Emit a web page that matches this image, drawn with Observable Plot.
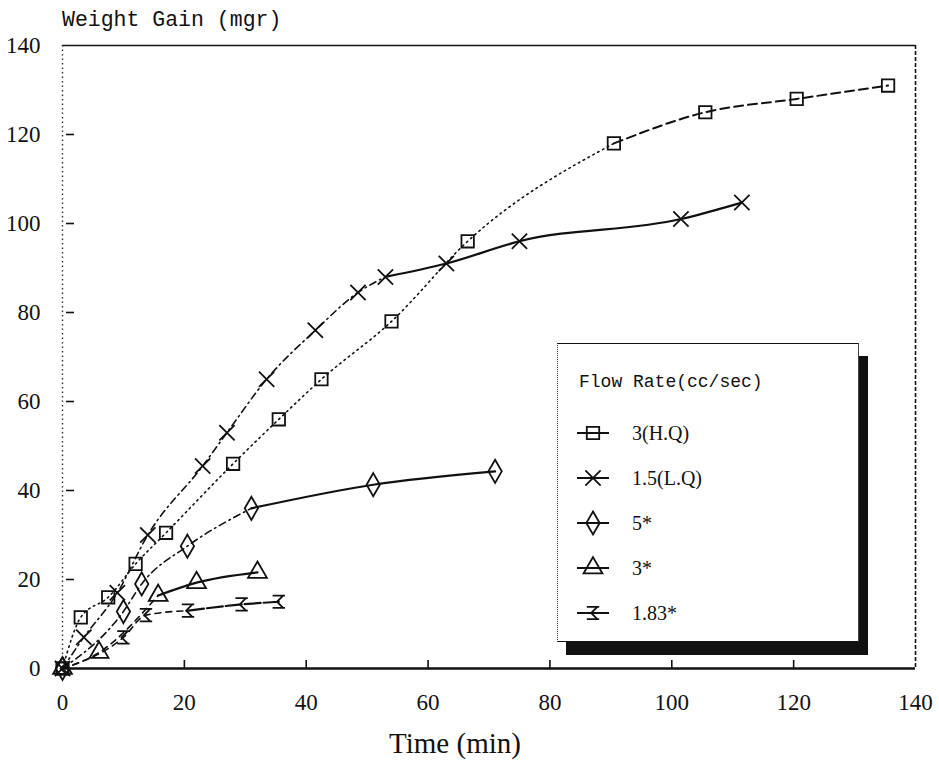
<!DOCTYPE html>
<html><head><meta charset="utf-8">
<script src="https://cdn.jsdelivr.net/npm/d3@7"></script>
<script src="https://cdn.jsdelivr.net/npm/@observablehq/plot@0.6"></script>
<style>
body{margin:0;background:#fff;}
#wrap{position:relative;width:939px;height:765px;overflow:hidden;background:#fff;}
#title{position:absolute;left:62px;top:8px;font-family:"Liberation Mono",monospace;font-size:21.5px;color:#111;white-space:nowrap;}
#xlabel{position:absolute;left:0;width:910px;top:727px;text-align:center;font-family:"Liberation Serif",serif;font-size:29px;color:#111;}
#legend{position:absolute;left:557px;top:343px;width:300px;height:297px;background:#fff;border-top:1.5px solid #111;border-left:1.5px dotted #333;border-bottom:1.5px solid #111;border-right:1px solid #444;box-shadow:9px 13px 0 0 #111;}
#legend .ttl{position:absolute;left:21px;top:28px;font-family:"Liberation Mono",monospace;font-size:18px;color:#111;white-space:nowrap;}
#legend .row{position:absolute;left:18px;height:30px;display:flex;align-items:center;}
#legend .row span{margin-left:22px;font-family:"Liberation Serif",serif;font-size:20px;color:#111;}
</style></head><body>
<div id="wrap"><div id="title">Weight Gain (mgr)</div><div id="xlabel">Time (min)</div></div>
<script>
// ---- data ----
const xDomain = [0, 140];
const yDomain = [0, 140];
const xTicks = [0, 20, 40, 60, 80, 100, 120, 140];
const yTicks = [0, 20, 40, 60, 80, 100, 120, 140];
const legendTitle = "Flow Rate(cc/sec)";
const seriesNames = ["3(H.Q)", "1.5(L.Q)", "5*", "3*", "1.83*"];

const hqTime = [0, 3, 7.5, 12, 17, 28, 35.5, 42.5, 54, 66.5, 90.5, 105.5, 120.5, 135.5];
const hqGain = [0, 11.5, 16, 23.5, 30.5, 46, 56, 65, 78, 96, 118, 125, 128, 131];

const lqTime = [0, 3.5, 9, 14, 23, 27, 33.5, 41.5, 48.5, 53, 63, 75, 101.5, 111.5];
const lqGain = [0, 7, 17, 30, 45.5, 53, 65, 76, 84.5, 88, 91, 96, 101, 104.7];

const f5Time = [0, 10, 13, 20.5, 31, 51, 71];
const f5Gain = [0, 12.8, 19, 27.5, 36, 41.3, 44.3];

const f3Time = [0, 6, 15.7, 22, 32];
const f3Gain = [0, 3.6, 16.4, 19.3, 21.6];

const f183Time = [0, 10, 13.7, 20.6, 29.4, 35.5];
const f183Gain = [0, 7, 12, 13, 14.4, 15];

// ---- styles ----
const ibeam = {
  draw(ctx, size) {
    const r = Math.sqrt(size) / 2;
    ctx.moveTo(-r, -r); ctx.lineTo(r, -r);
    ctx.moveTo(r * 0.7, -r); ctx.lineTo(-r * 0.3, 0); ctx.lineTo(r * 0.7, r);
    ctx.moveTo(-r, r); ctx.lineTo(r, r);
  }
};
const ink = "#111";
const W = 939, H = 765, mL = 62, mR = 24, mT = 45, mB = 97, tickLen = 8;
const series = [
  {name: seriesNames[0], time: hqTime, gain: hqGain, symbol: "square", split: 10, dashA: "1.5,4", wA: 1.6, dashB: "9,5", wB: 2},
  {name: seriesNames[1], time: lqTime, gain: lqGain, symbol: "times", split: 9, dashA: "7,4,1.5,4", wA: 1.6, dashB: "none", wB: 2.2},
  {name: seriesNames[2], time: f5Time, gain: f5Gain, symbol: "diamond", split: 4, dashA: "7,4,1.5,4", wA: 1.6, dashB: "none", wB: 2.2},
  {name: seriesNames[3], time: f3Time, gain: f3Gain, symbol: "triangle", split: 2, dashA: "6,5", wA: 1.6, dashB: "none", wB: 2.2},
  {name: seriesNames[4], time: f183Time, gain: f183Gain, symbol: ibeam, split: 3, dashA: "6,5", wA: 1.6, dashB: "16,3", wB: 2.2}
];

const marks = [];
for (const s of series) {
  const rows = s.time.map((t, i) => ({name: s.name, t, g: s.gain[i]}));
  marks.push(Plot.line(rows.slice(0, s.split + 1), {x: "t", y: "g", curve: "monotone-x", stroke: ink, strokeWidth: s.wA, strokeDasharray: s.dashA}));
  marks.push(Plot.line(rows.slice(s.split), {x: "t", y: "g", curve: "monotone-x", stroke: ink, strokeWidth: s.wB, strokeDasharray: s.dashB}));
  marks.push(Plot.dot(rows, {x: "t", y: "g", symbol: s.symbol, r: 7, stroke: ink, strokeWidth: 1.8, fill: "none"}));
}

const chart = Plot.plot({
  width: W, height: H,
  marginLeft: mL, marginRight: mR, marginTop: mT, marginBottom: mB,
  style: {fontFamily: "Liberation Serif, serif", fontSize: "23px", color: ink, background: "transparent"},
  x: {domain: xDomain},
  y: {domain: yDomain},
  marks: [
    Plot.ruleY([yDomain[1]], {stroke: ink, strokeWidth: 1.6}),
    Plot.ruleX([xDomain[0]], {stroke: "#333", strokeWidth: 1.4, strokeDasharray: "1.5,3"}),
    Plot.ruleX([xDomain[1]], {stroke: ink, strokeWidth: 1.6, strokeDasharray: "4,2"}),
    Plot.axisY(yTicks, {anchor: "left", tickSize: 0, tickPadding: 22, label: null, fontSize: 23}),
    Plot.axisX(xTicks, {anchor: "bottom", tickSize: 0, tickPadding: 25, label: null, fontSize: 23}),
    Plot.tickY(yTicks.slice(1, -1), {y: d => d, stroke: ink, strokeWidth: 1.6, insetLeft: 4, insetRight: W - mL - mR - 4 - tickLen}),
    Plot.tickX(xTicks.slice(1, -1), {x: d => d, stroke: ink, strokeWidth: 1.6, insetTop: H - mT - mB - tickLen}),
    ...marks,
    Plot.ruleY([yDomain[0]], {stroke: ink, strokeWidth: 2.5})
  ]
});
chart.style.position = "absolute";
chart.style.left = "0";
chart.style.top = "0";
const wrap = document.getElementById("wrap");
wrap.insertBefore(chart, wrap.firstChild);

// legend
const legend = document.createElement("div");
legend.id = "legend";
const ttl = document.createElement("div");
ttl.className = "ttl";
ttl.textContent = legendTitle;
legend.appendChild(ttl);
const symMap = {square: d3.symbolSquare, times: d3.symbolTimes, diamond: d3.symbolDiamond, triangle: d3.symbolTriangle};
series.forEach((s, i) => {
  const row = document.createElement("div");
  row.className = "row";
  row.style.top = (74 + i * 45) + "px";
  const svg = d3.create("svg").attr("width", 34).attr("height", 30);
  svg.append("line").attr("x1", 1).attr("x2", 33).attr("y1", 15).attr("y2", 15).attr("stroke", ink).attr("stroke-width", 2);
  const type = typeof s.symbol === "string" ? symMap[s.symbol] : s.symbol;
  svg.append("path").attr("transform", "translate(17,15)")
    .attr("d", d3.symbol(type, Math.PI * 7 * 7)())
    .attr("fill", "none").attr("stroke", ink).attr("stroke-width", 1.8);
  row.appendChild(svg.node());
  const lab = document.createElement("span");
  lab.textContent = s.name;
  row.appendChild(lab);
  legend.appendChild(row);
});
wrap.appendChild(legend);
</script>
</body></html>
